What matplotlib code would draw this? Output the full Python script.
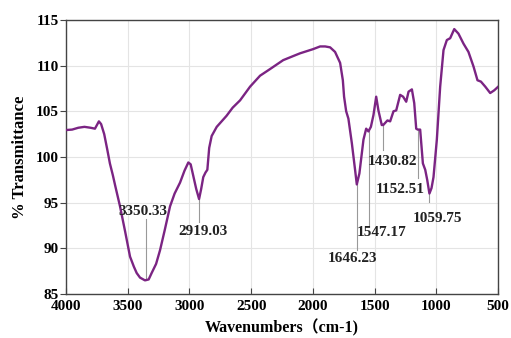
import numpy as np
import matplotlib.pyplot as plt

# FTIR spectrum (wavenumber, %T)
wavenumber = [4000, 3950, 3900, 3850, 3800, 3765, 3745, 3733, 3715, 3690, 3665, 3644,
              3620, 3600, 3562, 3520, 3481, 3450, 3427, 3400, 3360, 3330, 3306, 3270,
              3238, 3200, 3157, 3120, 3076, 3040, 3009, 2990, 2970, 2945, 2922, 2905,
              2888, 2870, 2855, 2840, 2820, 2779, 2700, 2650, 2590, 2509, 2428, 2350,
              2241, 2150, 2104, 2000, 1942, 1901, 1861, 1821, 1780, 1758, 1748, 1731,
              1713, 1685, 1659, 1645, 1624, 1591, 1569, 1551, 1531, 1510, 1488, 1470,
              1443, 1431, 1397, 1375, 1348, 1326, 1294, 1270, 1245, 1226, 1199, 1180,
              1164, 1152, 1132, 1110, 1091, 1075, 1057, 1040, 1024, 997, 970, 943,
              916, 889, 856, 822, 781, 741, 700, 668, 640, 605, 565, 532, 500]
transmittance = [102.95, 103.0, 103.2, 103.3, 103.2, 103.1, 103.6, 103.9, 103.6, 102.5, 100.8, 99.3,
                 98.0, 96.8, 94.6, 91.8, 89.1, 88.0, 87.3, 86.8, 86.5, 86.6, 87.3, 88.3,
                 89.8, 92.0, 94.6, 96.0, 97.2, 98.5, 99.4, 99.2, 98.0, 96.5, 95.4, 96.5,
                 97.8, 98.3, 98.6, 101.0, 102.3, 103.3, 104.5, 105.4, 106.2, 107.7, 108.9, 109.6,
                 110.6, 111.1, 111.35, 111.8, 112.1, 112.1, 112.0, 111.5, 110.3, 108.4, 106.6, 105.0,
                 104.2, 101.5, 98.6, 97.0, 98.2, 101.9, 103.1, 102.8, 103.3, 104.6, 106.6, 105.1,
                 103.5, 103.5, 104.0, 103.9, 105.0, 105.1, 106.8, 106.6, 106.05, 107.15, 107.4, 105.9,
                 103.1, 103.0, 103.0, 99.3, 98.6, 97.5, 96.0, 96.6, 97.8, 101.9, 107.7, 111.7,
                 112.8, 113.0, 114.0, 113.5, 112.4, 111.5, 109.9, 108.4, 108.25, 107.7, 107.0, 107.3, 107.7]

# labelled peaks
peak_labels = ["3350.33", "2919.03", "1646.23", "1547.17", "1430.82", "1152.51", "1059.75"]
peak_x = [3350.33, 2919.03, 1646.23, 1547.17, 1430.82, 1152.51, 1059.75]
peak_y = [86.5, 95.4, 97.0, 102.9, 103.5, 103.0, 96.0]
# where each leader line ends and where its text sits (x, y)
line_end = [93.2, 92.9, 89.8, 92.55, 100.8, 97.7, 95.1]
text_pos = [(3376, 94.0), (2890, 91.8), (1683, 88.9), (1448, 91.7),
            (1359, 99.55), (1294, 96.4), (994, 93.3)]

plt.rcParams['font.family'] = ['Liberation Serif', 'Noto Sans CJK SC']
plt.rcParams['font.weight'] = 'bold'

fig = plt.figure(figsize=(5.11, 3.38), dpi=100)
ax = fig.add_axes([0.129, 0.130, 0.846, 0.811])

ax.plot(wavenumber, transmittance, color="#7b2483", linewidth=1.7, zorder=3)

for lab, px, py, ye, (tx, ty) in zip(peak_labels, peak_x, peak_y, line_end, text_pos):
    ax.plot([px, px], [py, ye], color="#999999", linewidth=0.8, zorder=2)
    ax.text(tx, ty, lab, ha="center", va="center", fontsize=11, fontweight="bold", color="#222222")

ax.set_xlim(4000, 500)
ax.set_ylim(85, 115)
ax.set_xticks(np.arange(4000, 499, -500))
ax.set_yticks(np.arange(85, 116, 5))
ax.grid(color="#e4e4e4", linewidth=0.8)
ax.set_axisbelow(True)
ax.tick_params(axis="x", direction="in", length=4, labelsize=11, pad=4.5, color="#444444")
ax.tick_params(axis="y", direction="out", length=4, labelsize=11, pad=1, color="#444444")
for lbl in ax.get_xticklabels() + ax.get_yticklabels():
    lbl.set_fontweight("bold")
for s in ax.spines.values():
    s.set_color("#444444")
    s.set_linewidth(1.0)

ax.set_xlabel("Wavenumbers（cm-1)", fontsize=11.5, fontweight="bold", labelpad=4)
ax.set_ylabel("% Transmittance", fontsize=12, fontweight="bold", labelpad=6)

fig.savefig("out.png", dpi=100)
